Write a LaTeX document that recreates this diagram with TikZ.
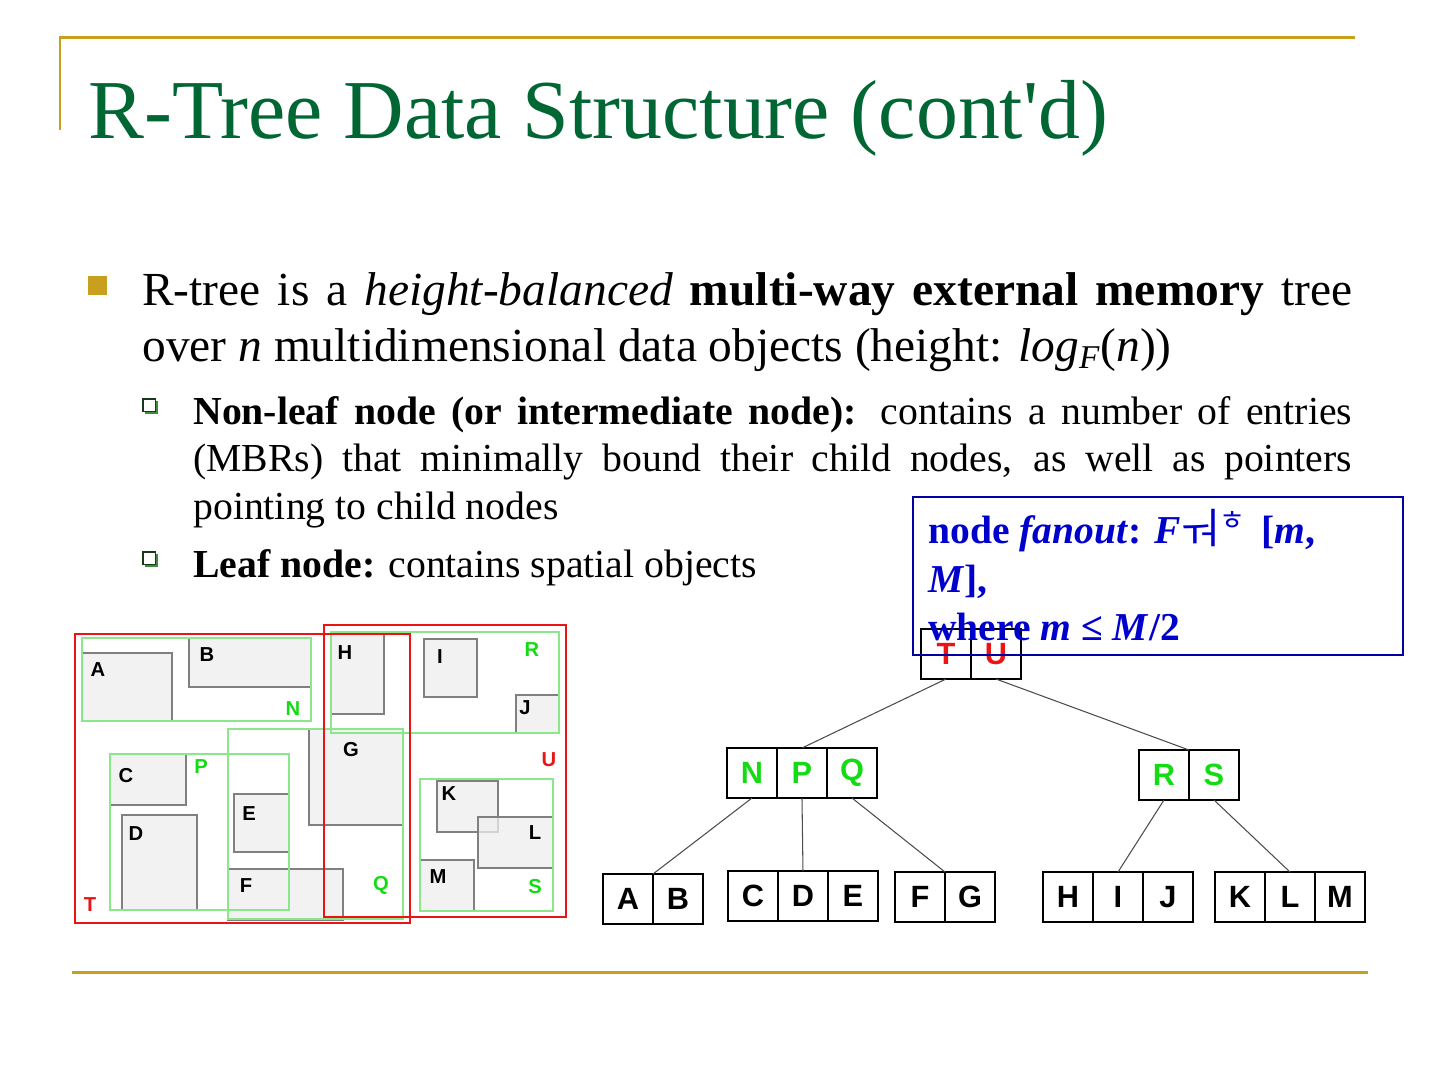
\documentclass[tikz,border=0pt]{standalone}
\usepackage{fontspec}
\setmainfont{Liberation Serif}
\newfontfamily\titlefont{Liberation Serif}[Ligatures=TeXOff]
\newfontfamily\arialfont{Liberation Sans}
\newfontfamily\krfont{Noto Sans CJK KR}
\usetikzlibrary{positioning}
\definecolor{titlegreen}{RGB}{0,102,51}
\definecolor{gold}{RGB}{200,160,30}
\definecolor{boxblue}{RGB}{0,0,204}
\definecolor{lightgreen}{RGB}{140,230,140}
\definecolor{mbrred}{RGB}{235,20,20}
\definecolor{labgreen}{RGB}{20,220,20}
\definecolor{objgray}{RGB}{238,238,238}
\definecolor{markgreen}{RGB}{60,140,60}
\begin{document}
\begin{tikzpicture}[x=0.02cm,y=-0.02cm,
  cell/.style={draw,line width=1.5pt,minimum width=1cm,minimum height=1cm,inner sep=0pt,outer sep=0pt,
    font=\arialfont\bfseries\fontsize{17.5}{18}\selectfont},
  obj/.style={draw=gray,line width=1.1pt,fill=objgray,fill opacity=0.75},
  mbr/.style={draw=lightgreen,line width=0.6pt},
  redmbr/.style={draw=mbrred,line width=1.2pt},
  lab/.style={inner sep=0pt,font=\arialfont\bfseries\fontsize{11.5}{12}\selectfont},
  link/.style={draw=black!70,line width=0.6pt}]
\useasboundingbox (0,0) rectangle (1440,1080);

% frame lines
\draw[gold,line width=1.7pt] (60,130) -- (60,37) -- (1355,37);
\draw[gold,line width=1.7pt] (72,972) -- (1368,972);

% title
\node[anchor=base west,inner sep=0pt,text=titlegreen,font=\titlefont\fontsize{47.7}{50}\selectfont] (title) at (88,138) {R-Tree Data Structure (cont'd)};

% bullets
\fill[gold] (88,276) rectangle (107,295);
\node[anchor=base west,inner sep=0pt,text width=24.2cm,align=justify,font=\fontsize{27}{32.3}\selectfont] (bul1) at (142,305)
  {R-tree is a \textit{height-balanced} \textbf{multi-way external memory} tree\linebreak
   over \textit{n} multidimensional data objects (height: \textit{log}\textsubscript{\textit{F}}(\textit{n}))};

\foreach \y in {399,552}{
  \fill[markgreen] (145,\y+2) rectangle (158,\y+15);
  \draw[fill=white,draw=black!60!markgreen,line width=0.6pt] (143,\y) rectangle (155.5,\y+12.5);
}
\node[anchor=base west,inner sep=0pt,text width=23.18cm,align=justify,font=\fontsize{22.6}{27.2}\selectfont] (sub1) at (193,424)
  {\textbf{Non-leaf node (or intermediate node):} contains a number of entries\linebreak
   (MBRs) that minimally bound their child nodes, as well as pointers\linebreak
   pointing to child nodes};
\node[anchor=base west,inner sep=0pt,font=\fontsize{22.6}{27.2}\selectfont] (sub2) at (193,577)
  {\textbf{Leaf node:} contains spatial objects};

% spatial objects
\draw[obj] (82,653) rectangle (172,721);
\draw[obj] (189,638) rectangle (311,687);
\draw[obj] (110,754) rectangle (186,805);
\draw[obj] (122,815) rectangle (197,910);
\draw[obj] (234,794) rectangle (289,852);
\draw[obj] (228,869) rectangle (343,920);
\draw[obj] (309,729) rectangle (403,825);
\draw[obj] (331,632) rectangle (384,714);
\draw[obj] (424,639) rectangle (477,697);
\draw[obj] (516,695) rectangle (559,733);
\draw[obj] (437,781) rectangle (498,832);
\draw[obj] (478,817) rectangle (553,868);
\draw[obj] (420,860) rectangle (474,911);
% MBRs
\draw[mbr] (82,638) rectangle (311,721);
\draw[mbr] (110,754) rectangle (289,910);
\draw[mbr] (228,729) rectangle (403,919);
\draw[mbr] (331,632) rectangle (559,733);
\draw[mbr] (420,779) rectangle (553,911);
\draw[redmbr] (75,634) rectangle (410,923);
\draw[redmbr] (324,625) rectangle (566,917);

% labels
\node[lab] (lA) at (98,670) {A};
\node[lab] (lB) at (207,655) {B};
\node[lab] (lC) at (126,776) {C};
\node[lab] (lD) at (136,834) {D};
\node[lab] (lE) at (249,814) {E};
\node[lab] (lF) at (246,886) {F};
\node[lab] (lG) at (351,750) {G};
\node[lab] (lH) at (345,653) {H};
\node[lab] (lI) at (440,657) {I};
\node[lab] (lJ) at (525,708) {J};
\node[lab] (lK) at (449,794) {K};
\node[lab] (lL) at (535,833) {L};
\node[lab] (lM) at (438,877) {M};
\node[lab,text=labgreen] (lN) at (293,709) {N};
\node[lab,text=labgreen] (lP) at (201,767) {P};
\node[lab,text=labgreen] (lQ) at (381,885) {Q};
\node[lab,text=labgreen] (lR) at (532,650) {R};
\node[lab,text=labgreen] (lS) at (535,887) {S};
\node[lab,text=mbrred] (lT) at (90,905) {T};
\node[lab,text=mbrred] (lU) at (549,760) {U};

% tree
\node[cell,anchor=north west,text=mbrred] (cT) at (921,629) {T};
\node[cell,right=0pt of cT,text=mbrred] (cU) {U};

\node[cell,anchor=north west,text=labgreen] (cN) at (727,748) {N};
\node[cell,right=0pt of cN,text=labgreen] (cP) {P};
\node[cell,right=0pt of cP,text=labgreen] (cQ) {Q};

\node[cell,anchor=north west,text=labgreen] (cR) at (1139,750) {R};
\node[cell,right=0pt of cR,text=labgreen] (cS) {S};

\node[cell,anchor=north west] (cA) at (603,874) {A};
\node[cell,right=0pt of cA] (cB) {B};
\node[cell,anchor=north west] (cC) at (728,871) {C};
\node[cell,right=0pt of cC] (cD) {D};
\node[cell,right=0pt of cD] (cE) {E};
\node[cell,anchor=north west] (cF) at (895,872) {F};
\node[cell,right=0pt of cF] (cG) {G};
\node[cell,anchor=north west] (cH) at (1043,872) {H};
\node[cell,right=0pt of cH] (cI) {I};
\node[cell,right=0pt of cI] (cJ) {J};
\node[cell,anchor=north west] (cK) at (1215,872) {K};
\node[cell,right=0pt of cK] (cL) {L};
\node[cell,right=0pt of cL] (cM) {M};

\draw[link] (cT.south) -- (cP.north);
\draw[link] (cU.south) -- (cR.north east);
\draw[link] (cN.south) -- (cA.north east);
\draw[link] (cP.south) -- (cD.north);
\draw[link] (cQ.south) -- (cF.north east);
\draw[link] (cR.south) -- (cI.north);
\draw[link] (cS.south) -- (cL.north);

% fanout box
\draw[draw=boxblue!80!black,line width=0.6pt] (913,497) rectangle (1403,655);
\begin{scope}[every node/.style={anchor=base west,inner sep=0pt,text=boxblue,font=\bfseries\fontsize{22.5}{24}\selectfont}]
\node (fan1) at (928,543) {node \textit{fanout}: \textit{F}{\krfont\mdseries\fontsize{24}{24}\selectfont ㅝ\raisebox{0.3em}{\fontsize{16}{16}\selectfont ㅎ}}\hspace{0.4em}[\textit{m},};
\node (fan2) at (928,592) {\textit{M}],};
\node (fan3) at (928,640) {where \textit{m} ≤ \textit{M}/2};
\end{scope}
\end{tikzpicture}
\end{document}
